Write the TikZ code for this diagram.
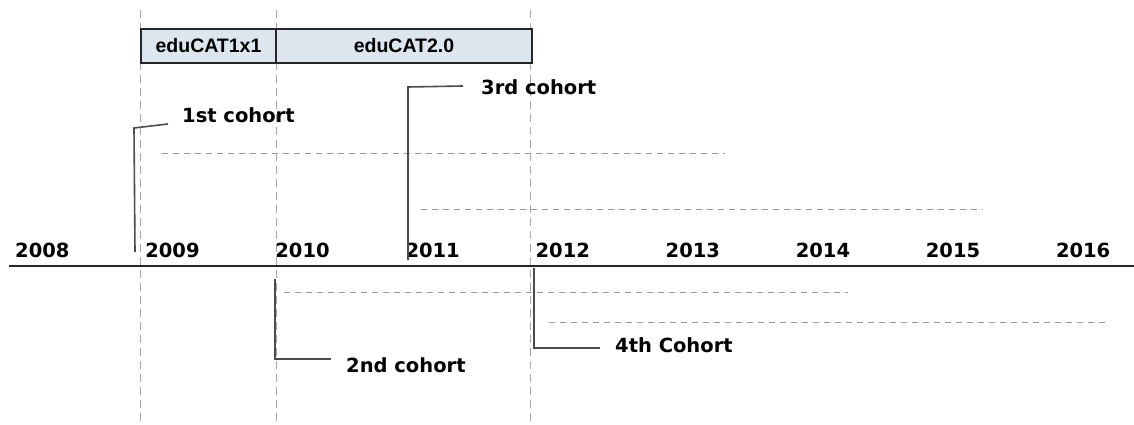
\documentclass[tikz,border=0pt]{standalone}
\usepackage{fontspec}
\setmainfont{DejaVu Sans}
\newfontfamily\boxfont{Liberation Sans}
\definecolor{boxfill}{HTML}{DDE6EF}
\begin{document}
\begin{tikzpicture}[x=1pt,y=-1pt,
  vguide/.style={draw=black!35,line width=1pt,dash pattern=on 8pt off 5pt},
  hguide/.style={draw=black!40,line width=0.9pt,dash pattern=on 6pt off 5pt},
  callout/.style={draw=black!70,line width=1.6pt},
  yearlbl/.style={anchor=base west,inner sep=0pt,font=\fontsize{19.5}{21}\selectfont\bfseries},
  cohortlbl/.style={anchor=base west,inner sep=0pt,font=\fontsize{19.5}{21}\selectfont\bfseries},
  progbox/.style={draw=black!85,line width=1.2pt,fill=boxfill,inner sep=0pt,
    font=\boxfont\fontsize{19.5}{21}\selectfont\bfseries}]
\useasboundingbox (0,0) rectangle (1134,425);
% vertical guides
\coordinate (g1t) at (140,10); \coordinate (g1b) at (140,425);
\coordinate (g2t) at (276,10); \coordinate (g2b) at (276,425);
\coordinate (g3t) at (530,10); \coordinate (g3b) at (530,425);
\draw[vguide] (g1t) -- (g1b);
\draw[vguide] (g2t) -- (g2b);
\draw[vguide] (g3t) -- (g3b);
% programme boxes
\node[progbox,minimum width=135pt,minimum height=34pt] (b1) at (208.5,46) {eduCAT1x1};
\node[progbox,minimum width=256pt,minimum height=34pt] (b2) at (404,46) {eduCAT2.0};
% horizontal dashed cohort spans
\coordinate (h1a) at (162,153); \coordinate (h1b) at (725,153);
\coordinate (h2a) at (421,209); \coordinate (h2b) at (983,209);
\coordinate (h3a) at (284,292); \coordinate (h3b) at (848,292);
\coordinate (h4a) at (549,322); \coordinate (h4b) at (1108,322);
\draw[hguide] (h1a) -- (h1b);
\draw[hguide] (h2a) -- (h2b);
\draw[hguide] (h3a) -- (h3b);
\draw[hguide] (h4a) -- (h4b);
% timeline
\coordinate (tl0) at (9,266); \coordinate (tl1) at (1134,266);
\draw[draw=black!85,line width=2pt] (tl0) -- (tl1);
% years
\foreach \yr [count=\i from 0] in {2008,2009,2010,2011,2012,2013,2014,2015,2016}{
  \node[yearlbl] (y\yr) at ({15+130.1*\i},257) {\yr};
}
% cohort labels
\node[cohortlbl] (c1) at (182,123) {1st cohort};
\node[cohortlbl] (c3) at (481,95) {3rd cohort};
\node[cohortlbl] (c2) at (346,372) {2nd cohort};
\node[cohortlbl] (c4) at (615,352) {4th Cohort};
% callouts
\coordinate (c1s) at (135,252); \coordinate (c1k) at (134,128); \coordinate (c1e) at (168,124);
\coordinate (c3s) at (408,260); \coordinate (c3k) at (408,87); \coordinate (c3e) at (463,86);
\coordinate (c2s) at (275,279); \coordinate (c2k) at (275,359); \coordinate (c2e) at (331,359);
\coordinate (c4s) at (534,268); \coordinate (c4k) at (534,348); \coordinate (c4e) at (600,348);
\draw[callout] (c1s) -- (c1k) -- (c1e);
\draw[callout] (c3s) -- (c3k) -- (c3e);
\draw[callout] (c2s) -- (c2k) -- (c2e);
\draw[callout] (c4s) -- (c4k) -- (c4e);
\end{tikzpicture}
\end{document}
